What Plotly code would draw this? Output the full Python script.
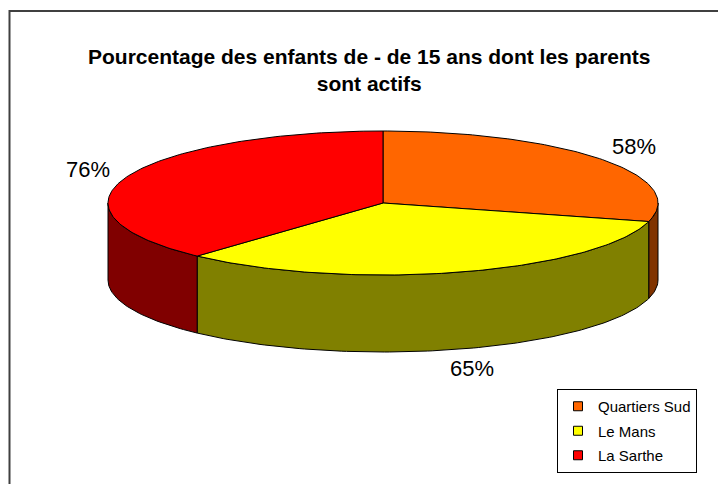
import numpy as np
import plotly.graph_objects as go

# ---- data ----
categories = ["Quartiers Sud", "Le Mans", "La Sarthe"]
values = [58, 65, 76]
value_labels = ["58%", "65%", "76%"]
title_text = "Pourcentage des enfants de - de 15 ans dont les parents<br>sont actifs"

# ---- style ----
top_colors = ["#FF6600", "#FFFF00", "#FF0000"]
side_colors = ["#803300", "#808000", "#800000"]
FONT = "Liberation Sans, Arial, sans-serif"
W, H = 726, 484          # window size
OFF = 8                  # page body margin
FW, FH = W - OFF, H - OFF
CX, CY, RX, RY, DEPTH = 383, 203, 275, 72, 77
LAB_KX, LAB_KY = 1.15, 1.28


def ell(t_deg, drop=0.0):
    t = np.radians(t_deg)
    return CX + RX * np.cos(t), CY - RY * np.sin(t) + drop


def arc(a, b, drop=0.0):
    n = max(3, int(abs(b - a)) + 2)
    ts = np.linspace(a, b, n)
    return ell(ts, drop)


fig = go.Figure()

total = float(sum(values))
spans = [360.0 * v / total for v in values]
starts = []
s = 90.0
for sp in spans:
    starts.append(s)
    s -= sp

# sides (front half only)
for i, (t0, sp) in enumerate(zip(starts, spans)):
    t1 = t0 - sp
    for lo, hi in [(-180.0, 0.0), (-540.0, -360.0)]:
        a, b = max(t1, lo), min(t0, hi)
        if b - a <= 0:
            continue
        xt, yt = arc(b, a)
        xb, yb = arc(a, b, DEPTH)
        xs = np.concatenate([xt, xb, xt[:1]])
        ys = np.concatenate([yt, yb, yt[:1]])
        fig.add_trace(go.Scatter(x=xs, y=ys, mode="lines", fill="toself",
                                 fillcolor=side_colors[i],
                                 line=dict(color="black", width=1),
                                 hoverinfo="skip", showlegend=False))

# top faces
for i, (t0, sp) in enumerate(zip(starts, spans)):
    xa, ya = arc(t0, t0 - sp)
    xs = np.concatenate([[CX], xa, [CX]])
    ys = np.concatenate([[CY], ya, [CY]])
    fig.add_trace(go.Scatter(x=xs, y=ys, mode="lines", fill="toself",
                             fillcolor=top_colors[i],
                             line=dict(color="black", width=1),
                             hoverinfo="skip", showlegend=False))

# value labels at mid angles
for i, (t0, sp) in enumerate(zip(starts, spans)):
    tm = np.radians(t0 - sp / 2)
    lx = CX + RX * LAB_KX * np.cos(tm)
    ly = CY - RY * LAB_KY * np.sin(tm) + (DEPTH if np.sin(tm) < 0 else 0)
    fig.add_annotation(x=lx, y=ly, text=value_labels[i], showarrow=False,
                       font=dict(family=FONT, size=22, color="black"),
                       xanchor="center", yanchor="middle")

# legend entries
for i, c in enumerate(categories):
    fig.add_trace(go.Scatter(x=[None], y=[None], mode="markers", name=c,
                             legendgroup=c,
                             marker=dict(symbol="square", size=9, color=top_colors[i],
                                         line=dict(color="black", width=1))))

fig.add_annotation(x=369, y=70, text="<b>" + title_text + "</b>", showarrow=False,
                   font=dict(family=FONT, size=21, color="black"),
                   xanchor="center", yanchor="middle")

fig.add_shape(type="rect", xref="x", yref="y", x0=9.5, y0=11, x1=W + 40, y1=H + 40,
              line=dict(color="#404040", width=2), layer="above")

fig.update_layout(
    width=FW, height=FH,
    margin=dict(l=0, r=0, t=0, b=0),
    paper_bgcolor="white", plot_bgcolor="white",
    xaxis=dict(range=[OFF, W], visible=False, fixedrange=True),
    yaxis=dict(range=[H, OFF], visible=False, fixedrange=True),
    showlegend=True,
    legend=dict(x=(557 - OFF) / FW, y=1 - (389 - OFF) / FH, xanchor="left", yanchor="top",
                bordercolor="black", borderwidth=1, bgcolor="white",
                font=dict(family=FONT, size=15, color="black"),
                tracegroupgap=2),
)

fig.write_html("out.html")
